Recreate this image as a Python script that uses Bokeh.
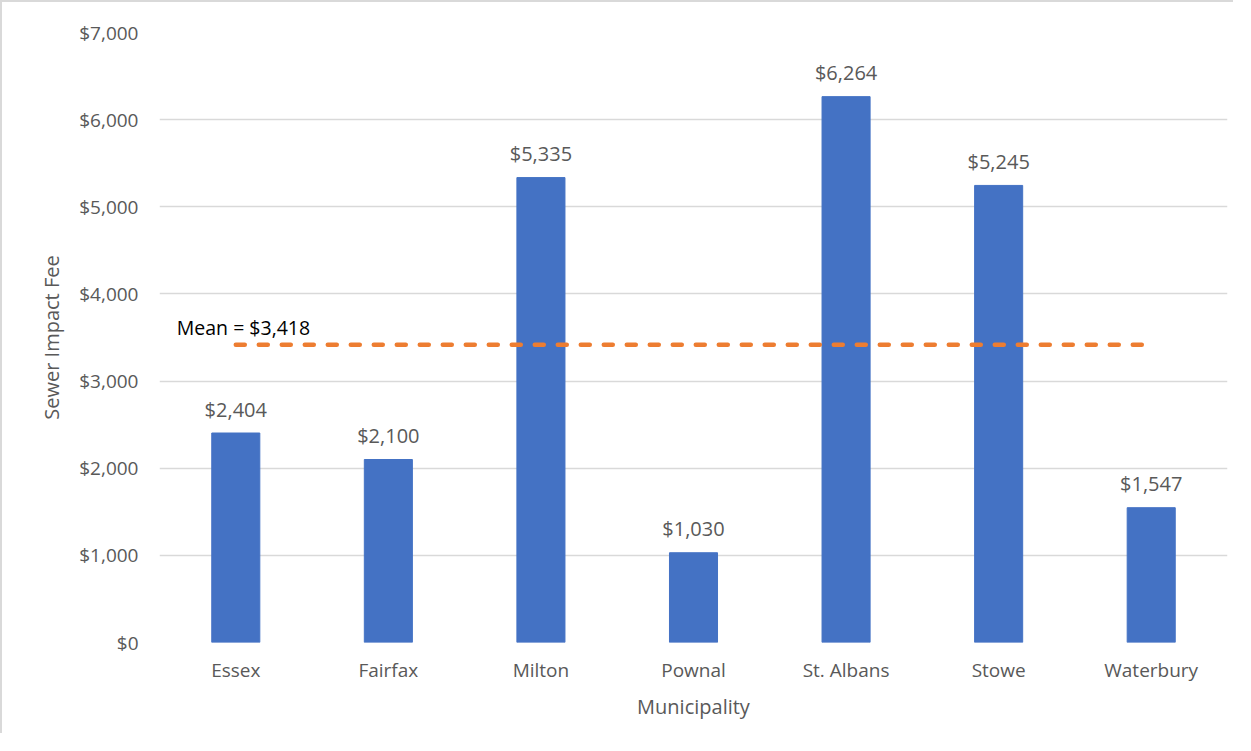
from bokeh.plotting import figure
from bokeh.models import ColumnDataSource, NumeralTickFormatter, FixedTicker, Range1d
from bokeh.core.properties import value
from bokeh.embed import file_html
from bokeh.resources import INLINE

municipalities = ["Essex", "Fairfax", "Milton", "Pownal", "St. Albans", "Stowe", "Waterbury"]
impact_fees = [2404, 2100, 5335, 1030, 6264, 5245, 1547]
mean_fee = 3418
y_ticks = [0, 1000, 2000, 3000, 4000, 5000, 6000, 7000]

FONT = "Open Sans"
GRAY = "#595959"

src = ColumnDataSource(dict(
    x=municipalities,
    y=impact_fees,
    label=["${:,.0f}".format(v) for v in impact_fees],
))

p = figure(
    x_range=municipalities,
    y_range=Range1d(0, 7000),
    width=1233, height=733,
    output_backend="svg",
    toolbar_location=None,
    min_border_left=157, min_border_right=8,
    min_border_top=30, min_border_bottom=93,
)
p.outline_line_color = None
p.background_fill_color = "white"
p.border_fill_color = "white"

p.vbar(x="x", top="y", width=0.315, source=src, color="#4472C4")

p.text(x="x", y="y", text="label", source=src,
       text_align="center", text_baseline="middle", y_offset=-24,
       text_font=value(FONT), text_font_size="20px", text_color=GRAY)

p.line(x=[municipalities[0], municipalities[-1]], y=[mean_fee, mean_fee],
       line_color="#ED7D31", line_width=4.5, line_dash="9 14", line_cap="round")

p.text(x=[municipalities[0]], y=[mean_fee], text=["Mean = ${:,.0f}".format(mean_fee)],
       x_offset=-59, y_offset=-17, text_align="left", text_baseline="middle",
       text_font=value(FONT), text_font_size="19.5px", text_color="#000000")

p.xgrid.grid_line_color = None
p.ygrid.grid_line_color = "#d9d9d9"
p.ygrid.grid_line_width = 1.3

p.yaxis.ticker = FixedTicker(ticks=y_ticks)
p.yaxis.formatter = NumeralTickFormatter(format="$0,0")

for ax in (p.xaxis[0], p.yaxis[0]):
    ax.axis_line_color = None
    ax.major_tick_line_color = None
    ax.minor_tick_line_color = None
    ax.major_tick_out = 0
    ax.major_tick_in = 0
    ax.major_label_text_font = FONT
    ax.major_label_text_font_size = "19px"
    ax.major_label_text_color = GRAY
    ax.axis_label_text_font = FONT
    ax.axis_label_text_font_size = "20px"
    ax.axis_label_text_color = GRAY
    ax.axis_label_text_font_style = "normal"

p.xaxis.axis_label = "Municipality"
p.yaxis.axis_label = "Sewer Impact Fee"
p.xaxis.major_label_standoff = 14
p.yaxis.major_label_standoff = 21
p.xaxis.axis_label_standoff = 7
p.yaxis.axis_label_standoff = 11

p.styles = {"border": "2px solid #d9d9d9", "border-bottom": "none", "border-right": "none"}

open("out.html", "w").write(file_html(p, INLINE))
